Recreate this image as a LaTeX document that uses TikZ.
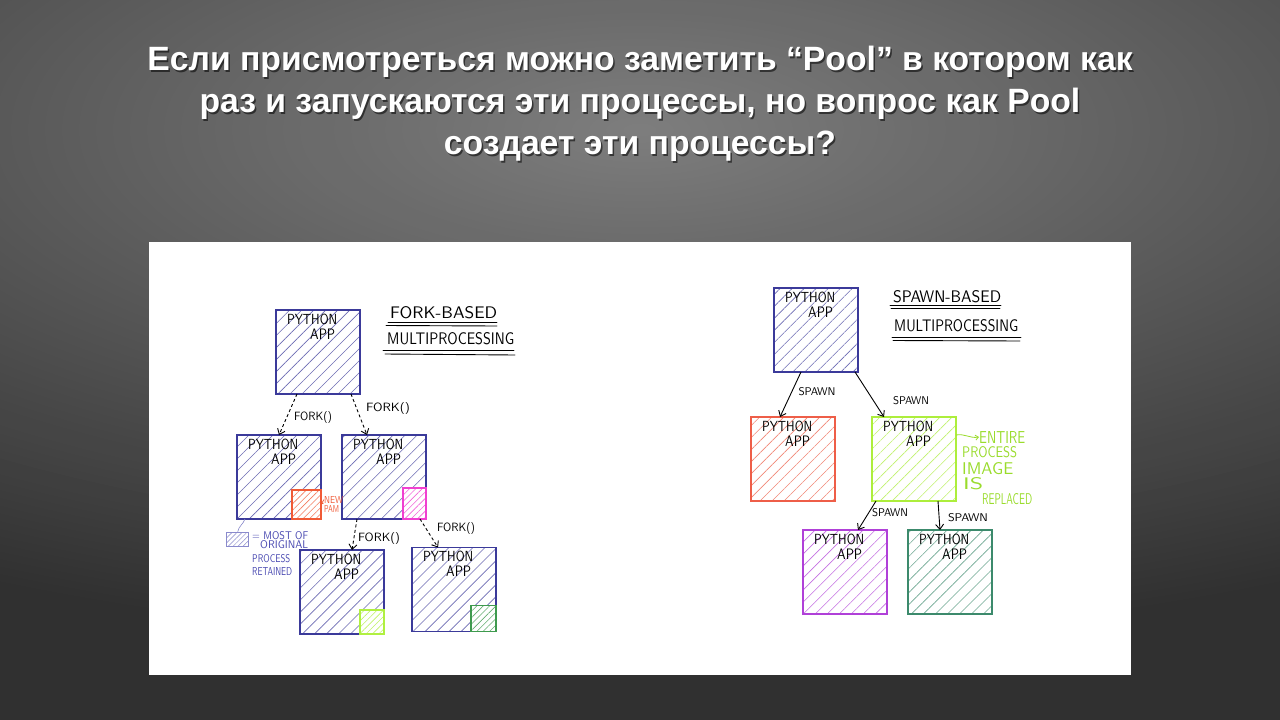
\documentclass[tikz,border=0pt]{standalone}
\usepackage{fontspec}
\usepackage{graphicx}
\newfontfamily\titlefont{Liberation Sans}
\usetikzlibrary{arrows.meta,patterns.meta,calc}
\definecolor{ink}{HTML}{3B3A9A}
\definecolor{bgin}{HTML}{7E7E7E}
\definecolor{bgout}{HTML}{303030}
\definecolor{forange}{HTML}{F05A36}
\definecolor{fmag}{HTML}{F040D0}
\definecolor{flime}{HTML}{B0F040}
\definecolor{fdgreen}{HTML}{3E9A4E}
\definecolor{sred}{HTML}{EE5E48}
\definecolor{slime}{HTML}{ADEE3C}
\definecolor{gtext}{HTML}{9ADC2C}
\definecolor{spurple}{HTML}{B040D8}
\definecolor{steal}{HTML}{3C8A6C}
\definecolor{legblue}{HTML}{8A8ACC}
\definecolor{noteblue}{HTML}{4646B0}
\newcommand\hwtext[3]{\resizebox{#1}{#2}{\sffamily #3}}
\tikzset{
  pbox/.style={draw=#1, line width=1.2pt, minimum width=84pt, minimum height=84pt,
    inner sep=0pt, outer sep=0pt, preaction={fill=white},
    pattern={Lines[angle=45,distance=8.5pt,line width=0.6pt]}, pattern color=#1!75!white},
  sbox/.style={draw=#1, line width=1.1pt, inner sep=0pt, outer sep=0pt, anchor=south east,
    preaction={fill=white},
    pattern={Lines[angle=45,distance=4.5pt,line width=0.6pt]}, pattern color=#1!80!white},
  hand/.style={inner sep=0pt},
  forkarrow/.style={draw, line width=0.9pt, dash pattern=on 3pt off 2.5pt,
    -{Straight Barb[length=5pt,width=8pt]}},
  spawnarrow/.style={draw, line width=0.9pt, -{Straight Barb[length=5pt,width=8pt]}},
  uline/.style={line width=0.9pt, line cap=round},
}
\begin{document}
\begin{tikzpicture}[x=1pt,y=-1pt]
\useasboundingbox (0,0) rectangle (1280,720);
\begin{scope}
\clip (0,0) rectangle (1280,720);
\fill[bgout] (0,0) rectangle (1280,720);
\foreach \i in {80,79,...,1}{
  \pgfmathsetmacro\p{100*(1-\i/80)}
  \fill[bgin!\p!bgout] (640,130) ellipse[x radius={17pt*\i}, y radius={6.5pt*\i}];
}
\end{scope}
% title
\node[font=\titlefont\bfseries\fontsize{33.7}{42}\selectfont, text=black, opacity=0.55, align=center]
  at (641.5,105.5) {Если присмотреться можно заметить “Pool” в котором как\\раз и запускаются эти процессы, но вопрос как Pool\\создает эти процессы?};
\node[font=\titlefont\bfseries\fontsize{33.7}{42}\selectfont, text=white, align=center] (title)
  at (640,104) {Если присмотреться можно заметить “Pool” в котором как\\раз и запускаются эти процессы, но вопрос как Pool\\создает эти процессы?};
% white panel
\fill[white] (149,242) rectangle (1131,675);

% ---------------- LEFT: fork-based ----------------
\node[pbox=ink] (t) at (318,352) {};
\node[pbox=ink] (a) at (279,477) {};
\node[pbox=ink] (b) at (384,477) {};
\node[pbox=ink] (c) at (342,592) {};
\node[pbox=ink] (d) at (454,589.5) {};
\node[sbox=forange, minimum width=29pt, minimum height=29pt] (a1) at (a.south east) {};
\node[sbox=fmag, minimum width=23pt, minimum height=31pt] (b1) at (b.south east) {};
\node[sbox=flime, minimum width=24pt, minimum height=24pt] (c1) at (c.south east) {};
\node[sbox=fdgreen, minimum width=25pt, minimum height=26pt] (d1) at (d.south east) {};

% ---------------- RIGHT: spawn-based ----------------
\node[pbox=ink] (st) at (816,330) {};
\node[pbox=sred] (sr) at (793,459) {};
\node[pbox=slime] (sg) at (914,459) {};
\node[pbox=spurple] (sp) at (845,572) {};
\node[pbox=steal] (sd) at (950,572) {};

\foreach \n in {t,a,b,c,d,st,sr,sg,sp,sd}{
  \node[hand, anchor=north west] (\n-py) at ([xshift=11pt,yshift=-3.5pt]\n.north west) {\hwtext{50pt}{10.5pt}{PYTHON}};
  \node[hand, anchor=north west] (\n-app) at ([xshift=34pt,yshift=-18.5pt]\n.north west) {\hwtext{25pt}{10.5pt}{APP}};
}

\node[hand, anchor=west] (fb1) at (390,312.5) {\hwtext{107pt}{12pt}{FORK-BASED}};
\draw[uline] (388,322) -- (497,322);
\draw[uline] (386,325.5) -- (497,326);
\node[hand, anchor=west] (fb2) at (387,338.5) {\hwtext{127pt}{12pt}{MULTIPROCESSING}};
\draw[uline] (383,350) -- (514,350);
\draw[uline] (385,354) -- (515,355);

\draw[forkarrow] ([xshift=-21pt]t.south) -- (a.north);
\draw[forkarrow] ([xshift=33pt]t.south) -- ([xshift=-17pt]b.north);
\draw[forkarrow] ([xshift=-27pt]b.south) -- ([xshift=10pt]c.north);
\draw[forkarrow] ([xshift=36pt]b.south) -- ([xshift=-16pt]d.north);
\node[hand] (f1) at (313,417.5) {\hwtext{38pt}{9pt}{FORK()}};
\node[hand] (f2) at (388,408.5) {\hwtext{44pt}{9pt}{FORK()}};
\node[hand] (f3) at (379,538.5) {\hwtext{42pt}{9pt}{FORK()}};
\node[hand] (f4) at (456,528.5) {\hwtext{38pt}{9pt}{FORK()}};

% new page note
\node[hand, anchor=west, text=forange] (np1) at (324,499.5) {\hwtext{19pt}{7pt}{NEW}};
\node[hand, anchor=west, text=forange] (np2) at (324,509) {\hwtext{15pt}{7pt}{PAM}};
\draw[forange, line width=0.7pt, -{Straight Barb[length=2pt,width=3pt]}] (np1.west) -- (a1.east);

% legend
\node[draw=legblue, line width=0.8pt, minimum width=22pt, minimum height=14pt, inner sep=0pt,
  pattern={Lines[angle=45,distance=3.5pt,line width=0.5pt]}, pattern color=legblue] (leg) at (237,539) {};
\draw[legblue, line width=0.6pt] ([xshift=8pt]a.south west) to[out=-110,in=80] ([xshift=12pt]leg.north west);
\node[hand, anchor=west, text=noteblue] (n1) at (252,536) {\hwtext{56pt}{8pt}{= MOST OF}};
\node[hand, anchor=west, text=noteblue] (n2) at (260,545) {\hwtext{48pt}{8pt}{ORIGINAL}};
\node[hand, anchor=west, text=noteblue] (n3) at (252,559) {\hwtext{38pt}{8pt}{PROCESS}};
\node[hand, anchor=west, text=noteblue] (n4) at (252,571) {\hwtext{40pt}{8pt}{RETAINED}};

% spawn headings
\node[hand, anchor=west] (sb1) at (893,297) {\hwtext{108pt}{12pt}{SPAWN-BASED}};
\draw[uline] (890,305.5) -- (1001,305.5);
\draw[uline] (891,308.5) -- (1000,308.5);
\node[hand, anchor=west] (sb2) at (894,326) {\hwtext{124pt}{12pt}{MULTIPROCESSING}};
\draw[uline] (892,337) -- (1021,337);
\draw[uline] (893,340.5) -- (1020,341);

\draw[spawnarrow] ([xshift=-15pt]st.south) -- ([xshift=-13pt]sr.north);
\draw[spawnarrow] ([xshift=39pt]st.south) -- ([xshift=-30pt]sg.north);
\draw[spawnarrow] ([xshift=-38pt]sg.south) -- ([xshift=13pt]sp.north);
\draw[spawnarrow] ([xshift=24pt]sg.south) -- ([xshift=-10pt]sd.north);
\node[hand] (s1) at (817,392) {\hwtext{37pt}{8pt}{SPAWN}};
\node[hand] (s2) at (911,401) {\hwtext{36pt}{8pt}{SPAWN}};
\node[hand] (s3) at (890,513) {\hwtext{36pt}{8pt}{SPAWN}};
\node[hand] (s4) at (968,518) {\hwtext{40pt}{8pt}{SPAWN}};

% entire process image note
\node[hand, anchor=west, text=gtext] (e1) at (979,437) {\hwtext{46pt}{12pt}{ENTIRE}};
\node[hand, anchor=west, text=gtext] (e2) at (962,452.5) {\hwtext{55pt}{11pt}{PROCESS}};
\node[hand, anchor=west, text=gtext] (e3) at (962,469) {\hwtext{51pt}{12pt}{IMAGE}};
\node[hand, anchor=west, text=gtext] (e4) at (963,484) {\hwtext{20pt}{12pt}{IS}};
\node[hand, anchor=west, text=gtext] (e5) at (982,499) {\hwtext{50pt}{11pt}{REPLACED}};
\draw[gtext, line width=0.8pt, -{Straight Barb[length=3pt,width=5pt]}]
  ([yshift=-18pt]sg.north east) to[out=10,in=190] (e1.west);
\end{tikzpicture}
\end{document}
